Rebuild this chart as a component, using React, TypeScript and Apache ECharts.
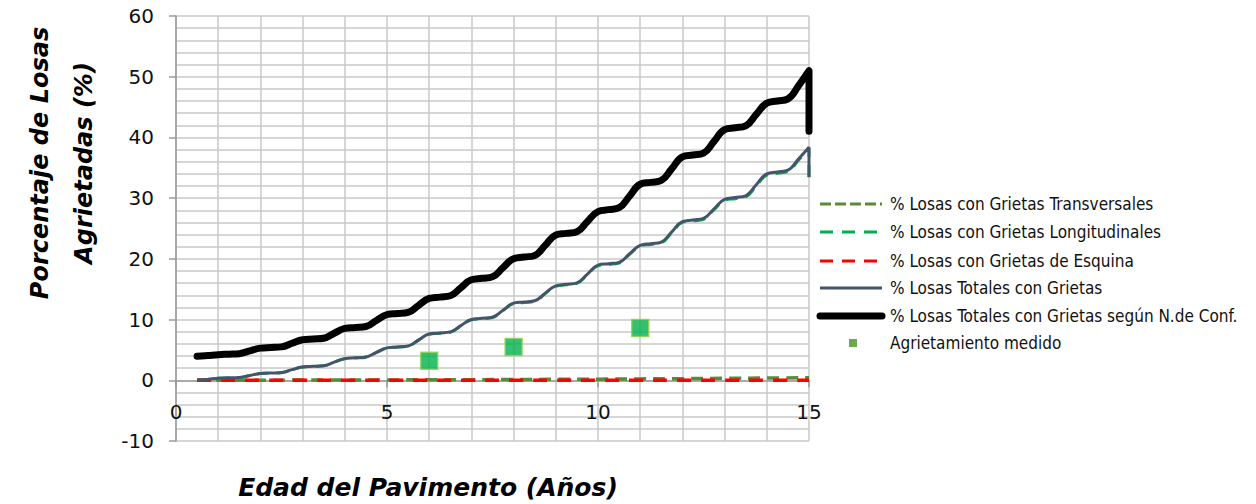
import React, { useEffect, useRef } from "react";
import * as echarts from "echarts";

// Pavement age (years), quarterly, for the modelled total curves
const edad = [
  0.5, 0.75,
  1, 1.25, 1.5, 1.75, 2, 2.25, 2.5, 2.75, 3, 3.25, 3.5, 3.75, 4, 4.25, 4.5, 4.75,
  5, 5.25, 5.5, 5.75, 6, 6.25, 6.5, 6.75, 7, 7.25, 7.5, 7.75, 8, 8.25, 8.5, 8.75,
  9, 9.25, 9.5, 9.75, 10, 10.25, 10.5, 10.75, 11, 11.25, 11.5, 11.75, 12, 12.25, 12.5, 12.75,
  13, 13.25, 13.5, 13.75, 14, 14.25, 14.5, 14.75, 15, 15,
];

// % total cracked slabs at the reliability level
const totalesConf = [
  3.95, 4.08,
  4.22, 4.3, 4.38, 4.85, 5.3, 5.4, 5.5, 6.1, 6.67, 6.8, 6.93, 7.75, 8.54, 8.7, 8.86, 9.85,
  10.81, 11.0, 11.19, 12.35, 13.48, 13.7, 13.92, 15.25, 16.56, 16.8, 17.05, 18.55, 20.03, 20.3, 20.57, 22.25,
  23.93, 24.2, 24.47, 26.15, 27.79, 28.1, 28.42, 30.35, 32.29, 32.6, 32.92, 34.85, 36.79, 37.1, 37.42, 39.35,
  41.29, 41.6, 41.91, 43.8, 45.65, 46.0, 46.35, 48.5, 51.0, 41.0,
];

// % total cracked slabs
const totales = [
  0, 0.15,
  0.34, 0.4, 0.46, 0.8, 1.12, 1.2, 1.28, 1.75, 2.2, 2.3, 2.4, 3.0, 3.57, 3.7, 3.83, 4.6,
  5.34, 5.5, 5.66, 6.65, 7.63, 7.8, 7.97, 9.0, 10.01, 10.2, 10.39, 11.55, 12.7, 12.9, 13.1, 14.35,
  15.56, 15.8, 16.04, 17.5, 18.97, 19.2, 19.43, 20.85, 22.23, 22.5, 22.77, 24.45, 26.14, 26.4, 26.66, 28.25,
  29.81, 30.1, 30.39, 32.2, 34.0, 34.3, 34.6, 36.45, 38.4, 33.5,
];

// % slabs with longitudinal cracks
const longitudinales = [
  0, 0.14,
  0.33, 0.39, 0.45, 0.79, 1.1, 1.18, 1.26, 1.73, 2.18, 2.28, 2.38, 2.98, 3.55, 3.68, 3.81, 4.58,
  5.31, 5.47, 5.63, 6.62, 7.57, 7.74, 7.91, 8.94, 9.95, 10.14, 10.33, 11.49, 12.62, 12.82, 13.02, 14.27,
  15.48, 15.72, 15.96, 17.42, 18.85, 19.08, 19.31, 20.73, 22.11, 22.38, 22.65, 24.33, 26.0, 26.26, 26.52, 28.11,
  29.62, 29.91, 30.2, 32.01, 33.8, 34.1, 34.4, 36.25, 38.15, 33.3,
];

// Yearly ages for the small crack types
const edadAnual = [0.5, 1, 2, 3, 4, 5, 6, 7, 8, 9, 10, 11, 12, 13, 14, 15];
// % slabs with transverse cracks
const transversales = [0, 0.01, 0.02, 0.03, 0.04, 0.06, 0.08, 0.1, 0.13, 0.16, 0.19, 0.23, 0.27, 0.32, 0.37, 0.43];
// % slabs with corner cracks
const esquina = [0, 0, 0, 0, 0, 0, 0, 0, 0, 0, 0, 0, 0, 0, 0, 0];

// Field-measured cracking
const medidoEdad = [6, 8, 11];
const medidoValor = [3.2, 5.5, 8.6];

const yTicks = [-10, 0, 10, 20, 30, 40, 50, 60];

const nombres = [
  "% Losas con Grietas Transversales",
  "% Losas con Grietas Longitudinales",
  "% Losas con Grietas de Esquina",
  "% Losas Totales con Grietas",
  "% Losas Totales con Grietas según N.de Conf.",
  "Agrietamiento medido",
];

const pares = (xs: number[], ys: number[]) => xs.map((x, i) => [x, ys[i]]);

const GRID = "#c8c8c8";
const AXIS = "#9a9a9a";
const TEXT = "#111111";
const LEGEND_FONT = "'Liberation Sans Narrow', 'DejaVu Sans Condensed', sans-serif";

const GRID_TOP = 16;
const GRID_BOTTOM = 63;
const CHART_H = 504;

function legendGraphic() {
  const rowY = [204, 232, 261, 288, 316, 343];
  const x0 = 820;
  const x1 = 882;
  const styles: any[] = [
    { stroke: "#5b8a3a", lineWidth: 3, lineDash: [11, 4] },
    { stroke: "#00b050", lineWidth: 3, lineDash: [13, 9] },
    { stroke: "#ff0000", lineWidth: 3, lineDash: [13, 9] },
    { stroke: "#44546a", lineWidth: 3 },
    { stroke: "#000000", lineWidth: 7, lineCap: "round" },
  ];
  const els: any[] = [];
  rowY.forEach((y, i) => {
    if (i < 5) {
      els.push({
        type: "line",
        shape: { x1: x0, y1: y, x2: x1, y2: y },
        style: styles[i],
      });
    } else {
      els.push({
        type: "rect",
        shape: { x: 849, y: y - 4, width: 8, height: 8 },
        style: { fill: "#6aa84f" },
      });
    }
    els.push({
      type: "text",
      x: 890,
      y,
      style: {
        text: nombres[i],
        fill: TEXT,
        font: `17px ${LEGEND_FONT}`,
        textVerticalAlign: "middle",
        textAlign: "left",
      },
    });
  });
  return els;
}

export default function App() {
  const ref = useRef<HTMLDivElement>(null);

  useEffect(() => {
    if (!ref.current) return;
    const chart = echarts.init(ref.current, undefined, { renderer: "svg" });

    const yMin = yTicks[0];
    const yMax = yTicks[yTicks.length - 1];
    const plotH = CHART_H - GRID_TOP - GRID_BOTTOM;
    // lift the horizontal axis from the bottom edge up to the zero line
    const zeroOffset = -((0 - yMin) / (yMax - yMin)) * plotH;

    const lineBase = {
      type: "line" as const,
      showSymbol: false,
      symbol: "none",
      smooth: 0.45,
    };

    chart.setOption({
      animation: false,
      backgroundColor: "#ffffff",
      grid: { left: 176, right: 447, top: GRID_TOP, bottom: GRID_BOTTOM, containLabel: false },
      xAxis: {
        type: "value",
        min: 0,
        max: 15,
        interval: 5,
        offset: zeroOffset,
        axisLine: { onZero: false, lineStyle: { color: AXIS, width: 1.5 } },
        axisTick: { show: true, inside: false, length: 7, lineStyle: { color: AXIS, width: 1.5 } },
        axisLabel: {
          color: TEXT,
          fontSize: 20,
          fontFamily: "'DejaVu Sans', sans-serif",
          margin: 22,
        },
        splitLine: { show: true, lineStyle: { color: GRID, width: 1.5 } },
        minorTick: { show: false, splitNumber: 5 },
        minorSplitLine: { show: true, lineStyle: { color: GRID, width: 1.5 } },
      },
      yAxis: {
        type: "value",
        min: yMin,
        max: yMax,
        interval: 10,
        axisLine: { show: true, lineStyle: { color: AXIS, width: 1.5 } },
        axisTick: { show: true, inside: false, length: 7, lineStyle: { color: AXIS, width: 1.5 } },
        axisLabel: {
          color: TEXT,
          fontSize: 20,
          fontFamily: "'DejaVu Sans', sans-serif",
          margin: 22,
        },
        splitLine: { show: true, lineStyle: { color: GRID, width: 1.5 } },
        minorTick: { show: false, splitNumber: 5 },
        minorSplitLine: { show: true, lineStyle: { color: GRID, width: 1.5 } },
      },
      series: [
        {
          ...lineBase,
          name: nombres[0],
          data: pares(edadAnual, transversales),
          lineStyle: { color: "#5b8a3a", width: 3.5, type: [12, 7] },
          z: 3,
        },
        {
          ...lineBase,
          name: nombres[1],
          data: pares(edad, longitudinales),
          lineStyle: { color: "#00b050", width: 3, type: [12, 8] },
          z: 3,
        },
        {
          ...lineBase,
          name: nombres[2],
          data: pares(edadAnual, esquina),
          lineStyle: { color: "#ff0000", width: 3.5, type: [14, 10] },
          z: 4,
        },
        {
          ...lineBase,
          name: nombres[3],
          data: pares(edad, totales),
          lineStyle: { color: "#44546a", width: 3 },
          z: 5,
        },
        {
          ...lineBase,
          name: nombres[4],
          data: pares(edad, totalesConf),
          lineStyle: { color: "#000000", width: 7, cap: "round", join: "round" },
          z: 6,
        },
        {
          type: "scatter",
          name: nombres[5],
          data: pares(medidoEdad, medidoValor),
          symbol: "rect",
          symbolSize: 17,
          itemStyle: { color: "#00b050", borderColor: "#92d050", borderWidth: 1.5 },
          z: 7,
        },
      ],
      graphic: [
        {
          type: "text",
          x: 40,
          y: 163,
          rotation: Math.PI / 2,
          style: {
            text: "Porcentaje de Losas",
            fill: "#000000",
            font: "italic bold 24px 'DejaVu Sans', sans-serif",
            textAlign: "center",
            textVerticalAlign: "middle",
          },
        },
        {
          type: "text",
          x: 84,
          y: 163,
          rotation: Math.PI / 2,
          style: {
            text: "Agrietadas (%)",
            fill: "#000000",
            font: "italic bold 24px 'DejaVu Sans', sans-serif",
            textAlign: "center",
            textVerticalAlign: "middle",
          },
        },
        {
          type: "text",
          x: 428,
          y: 487,
          style: {
            text: "Edad del Pavimento (Años)",
            fill: "#000000",
            font: "italic bold 25px 'DejaVu Sans', sans-serif",
            textAlign: "center",
            textVerticalAlign: "middle",
          },
        },
        ...legendGraphic(),
      ],
    });

    return () => chart.dispose();
  }, []);

  return (
    <div
      ref={ref}
      style={{ position: "fixed", left: 0, top: 0, width: 1256, height: CHART_H, background: "#fff" }}
    />
  );
}
